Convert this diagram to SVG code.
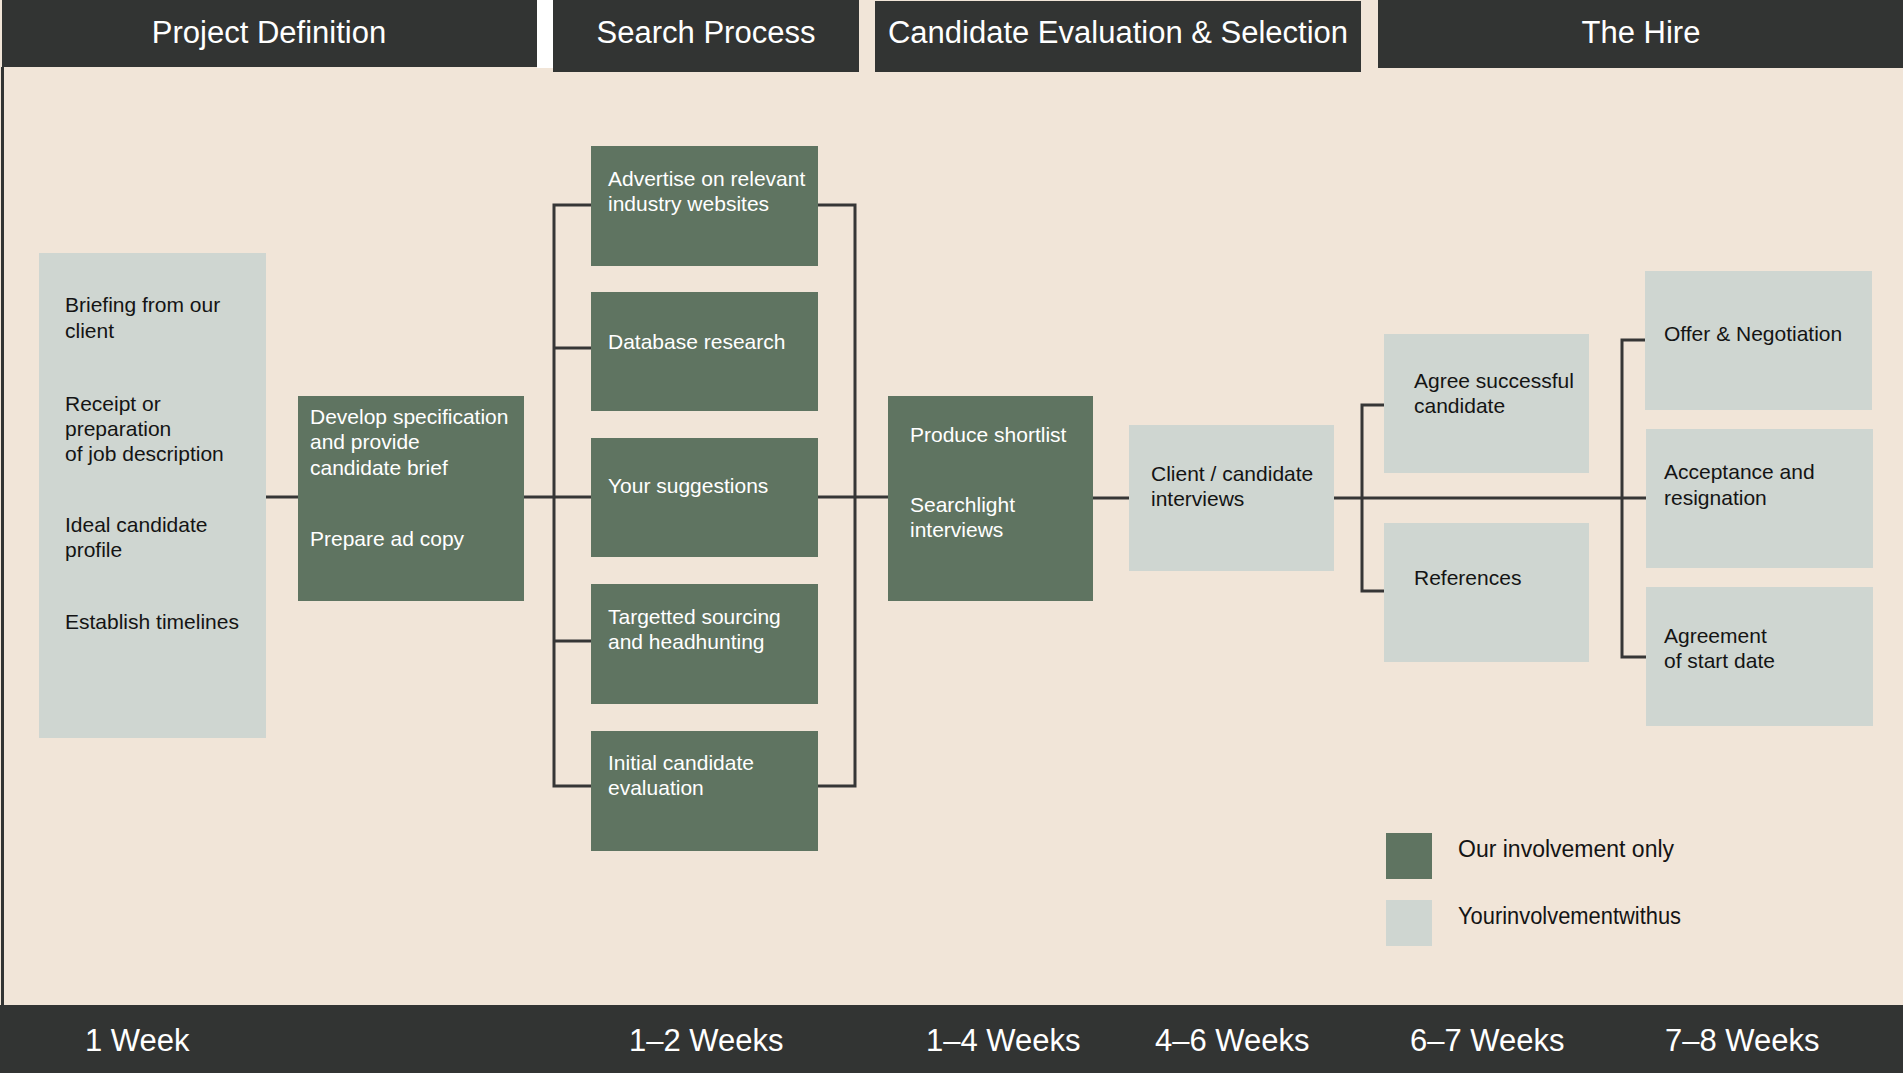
<svg xmlns="http://www.w3.org/2000/svg" width="1903" height="1073" viewBox="0 0 1903 1073">
<style>
.bar{fill:#323433}
.hd{font-family:"Liberation Sans",Arial,sans-serif;font-size:31px;fill:#ffffff;text-anchor:middle}
.wk{font-family:"Liberation Sans",Arial,sans-serif;font-size:31px;fill:#ffffff}
.g{fill:#5F7461}
.l{fill:#CFD6D1}
.tw{font-family:"Liberation Sans",Arial,sans-serif;font-size:21px;fill:#ffffff}
.tb{font-family:"Liberation Sans",Arial,sans-serif;font-size:21px;fill:#141414}
.lg{font-family:"Liberation Sans",Arial,sans-serif;font-size:23px;fill:#141414}
.cn{fill:none;stroke:#363636;stroke-width:3}
</style>
<rect x="0" y="0" width="1903" height="1073" fill="#F1E5D8"/>
<g id="header">
<rect x="537" y="0" width="16" height="68" fill="#ffffff"/>
<rect class="bar" x="2" y="0" width="535" height="67"/>
<rect class="bar" x="553" y="0" width="306" height="72"/>
<rect class="bar" x="875" y="1" width="486" height="71"/>
<rect class="bar" x="1378" y="0" width="525" height="68"/>
<text class="hd" x="269" y="43">Project Definition</text>
<text class="hd" x="706" y="43">Search Process</text>
<text class="hd" x="1118" y="43">Candidate Evaluation &amp; Selection</text>
<text class="hd" x="1641" y="43">The Hire</text>
</g>
<rect x="1" y="67" width="3" height="938" fill="#323433"/>
<g id="footer">
<rect class="bar" x="0" y="1005" width="1903" height="68"/>
<text class="wk" x="85" y="1051">1 Week</text>
<text class="wk" x="629" y="1051">1–2 Weeks</text>
<text class="wk" x="926" y="1051">1–4 Weeks</text>
<text class="wk" x="1155" y="1051">4–6 Weeks</text>
<text class="wk" x="1410" y="1051">6–7 Weeks</text>
<text class="wk" x="1665" y="1051">7–8 Weeks</text>
</g>
<g id="connectors">
<path class="cn" d="M266 497 H298"/>
<path class="cn" d="M524 497 H591"/>
<path class="cn" d="M591 205 H554 V786 H591"/>
<path class="cn" d="M554 348 H591"/>
<path class="cn" d="M554 641 H591"/>
<path class="cn" d="M818 205 H855 V786 H818"/>
<path class="cn" d="M818 497 H888"/>
<path class="cn" d="M1093 498 H1129"/>
<path class="cn" d="M1334 498 H1646"/>
<path class="cn" d="M1384 405 H1362 V591 H1384"/>
<path class="cn" d="M1646 340 H1622 V657 H1646"/>
</g>
<g id="node-briefing">
<rect class="l" x="39" y="253" width="227" height="485"/>
<text class="tb" x="65" y="312">Briefing from our</text>
<text class="tb" x="65" y="338">client</text>
<text class="tb" x="65" y="411">Receipt or</text>
<text class="tb" x="65" y="436">preparation</text>
<text class="tb" x="65" y="461">of job description</text>
<text class="tb" x="65" y="532">Ideal candidate</text>
<text class="tb" x="65" y="557">profile</text>
<text class="tb" x="65" y="629">Establish timelines</text>
</g>
<g id="node-develop">
<rect class="g" x="298" y="396" width="226" height="205"/>
<text class="tw" x="310" y="424">Develop specification</text>
<text class="tw" x="310" y="449">and provide</text>
<text class="tw" x="310" y="475">candidate brief</text>
<text class="tw" x="310" y="546">Prepare ad copy</text>
</g>
<g id="node-advertise">
<rect class="g" x="591" y="146" width="227" height="120"/>
<text class="tw" x="608" y="186">Advertise on relevant</text>
<text class="tw" x="608" y="211">industry websites</text>
</g>
<g id="node-database">
<rect class="g" x="591" y="292" width="227" height="119"/>
<text class="tw" x="608" y="349">Database research</text>
</g>
<g id="node-suggestions">
<rect class="g" x="591" y="438" width="227" height="119"/>
<text class="tw" x="608" y="493">Your suggestions</text>
</g>
<g id="node-sourcing">
<rect class="g" x="591" y="584" width="227" height="120"/>
<text class="tw" x="608" y="624">Targetted sourcing</text>
<text class="tw" x="608" y="649">and headhunting</text>
</g>
<g id="node-initial">
<rect class="g" x="591" y="731" width="227" height="120"/>
<text class="tw" x="608" y="770">Initial candidate</text>
<text class="tw" x="608" y="795">evaluation</text>
</g>
<g id="node-shortlist">
<rect class="g" x="888" y="396" width="205" height="205"/>
<text class="tw" x="910" y="442">Produce shortlist</text>
<text class="tw" x="910" y="512">Searchlight</text>
<text class="tw" x="910" y="537">interviews</text>
</g>
<g id="node-interviews">
<rect class="l" x="1129" y="425" width="205" height="146"/>
<text class="tb" x="1151" y="481">Client / candidate</text>
<text class="tb" x="1151" y="506">interviews</text>
</g>
<g id="node-agree">
<rect class="l" x="1384" y="334" width="205" height="139"/>
<text class="tb" x="1414" y="388">Agree successful</text>
<text class="tb" x="1414" y="413">candidate</text>
</g>
<g id="node-references">
<rect class="l" x="1384" y="523" width="205" height="139"/>
<text class="tb" x="1414" y="585">References</text>
</g>
<g id="node-offer">
<rect class="l" x="1645" y="271" width="227" height="139"/>
<text class="tb" x="1664" y="341">Offer &amp; Negotiation</text>
</g>
<g id="node-acceptance">
<rect class="l" x="1646" y="429" width="227" height="139"/>
<text class="tb" x="1664" y="479">Acceptance and</text>
<text class="tb" x="1664" y="505">resignation</text>
</g>
<g id="node-agreement">
<rect class="l" x="1646" y="587" width="227" height="139"/>
<text class="tb" x="1664" y="643">Agreement</text>
<text class="tb" x="1664" y="668">of start date</text>
</g>
<g id="legend">
<rect class="g" x="1386" y="833" width="46" height="46"/>
<text class="lg" x="1458" y="857">Our involvement only</text>
<rect class="l" x="1386" y="900" width="46" height="46"/>
<text class="lg" x="1458" y="924" textLength="223" lengthAdjust="spacingAndGlyphs">Yourinvolvementwithus</text>
</g>
</svg>
